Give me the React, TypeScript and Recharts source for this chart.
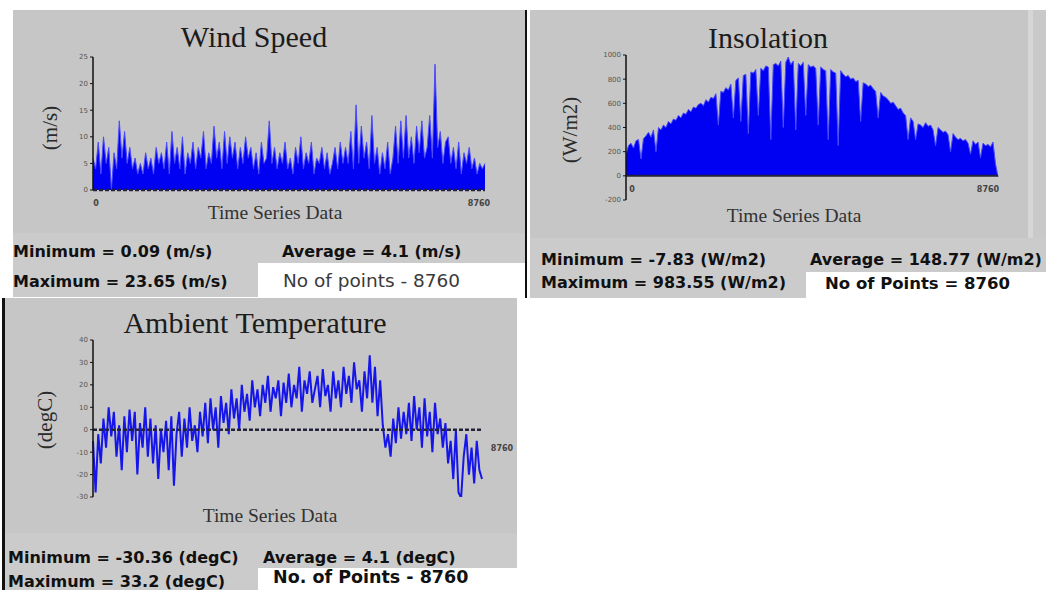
import { AreaChart, Area, LineChart, Line, XAxis, YAxis, ReferenceLine, ReferenceDot } from 'recharts';

const HOURS = 8760;

// hourly series, sampled by eye from the three plots (start of year -> end of year)
const WIND_SPEED = [
  6, 4, 9, 3, 10, 5, 8, 0.09, 7, 4, 13, 6, 11, 5, 8,
  4, 6, 3, 5, 3, 7, 4, 6, 3, 8, 5, 7, 4, 9, 3,
  11, 5, 8, 4, 10, 3, 7, 5, 9, 4, 8, 6, 11, 4, 7,
  5, 12, 6, 9, 4, 11, 5, 10, 6, 9, 4, 8, 5, 10, 6,
  8, 4, 7, 3, 9, 5, 6, 13, 5, 8, 4, 7, 5, 9, 4,
  6, 3, 8, 5, 10, 4, 7, 5, 9, 3, 6, 5, 8, 4, 7,
  3, 5, 8, 4, 9, 5, 8, 5, 11, 4, 16, 5, 12, 6, 9,
  4, 14, 5, 8, 3, 7, 4, 9, 3, 6, 12, 5, 13, 6, 14,
  6, 10, 5, 12, 7, 13, 6, 8, 14, 6, 23.65, 8, 11, 5, 9,
  10, 5, 8, 4, 9, 3, 7, 5, 8, 4, 6, 3, 5, 4, 5,
];
const WIND_TICKS = [0, 5, 10, 15, 20, 25];

const INSOLATION = [
  180, 250, 270, 230, 290, 300, 140, 310, 330, 360, 320, 380, 200, 400, 380,
  420, 400, 450, 430, 470, 460, 500, 480, 520, 510, 550, 530, 570, 560, 590,
  600, 580, 630, 610, 650, 640, 680, 420, 700, 690, 730, 710, 760, 480, 790,
  810, 450, 830, 840, 350, 860, 850, 880, 500, 890, 870, 910, 900, 300, 920,
  930, 910, 950, 400, 940, 983.55, 920, 950, 380, 930, 910, 940, 500, 920, 900,
  910, 890, 420, 900, 880, 870, 300, 880, 860, 850, 250, 870, 840, 820, 830,
  800, 810, 780, 790, 450, 770, 760, 740, 750, 720, 700, 480, 690, 660, 650,
  630, 600, 610, 580, 550, 560, 520, 500, 300, 480, 450, 300, 430, 420, 400,
  440, 410, 420, 380, 250, 400, 380, 360, 370, 340, 200, 350, 320, 300, 310,
  290, 300, 270, 180, 290, 260, 280, 150, 270, 250, 260, 240, 280, 100, -7.83,
];
const INSOLATION_TICKS = [-200, 0, 200, 400, 600, 800, 1000];

const AMBIENT_TEMP = [
  -5, -28, -2, -15, 5, -8, 10, -3, 8, -12, 2, -18, 6, -10, 9,
  -5, 8, -20, 3, -8, 10, -12, 5, -15, 2, -22, 0, -10, 4, -18,
  6, -25, -2, 8, -12, 5, -8, 10, -5, 2, -10, 8, -3, 12, -6,
  14, 0, 10, -8, 15, 3, 12, -2, 18, 5, 14, 0, 20, 8, 16,
  4, 22, 10, 18, 6, 20, 12, 24, 8, 19, 14, 22, 6, 21, 12,
  25, 10, 20, 14, 28, 8, 22, 16, 26, 12, 18, 24, 10, 27, 15,
  20, 8, 26, 14, 22, 10, 28, 16, 24, 12, 30, 18, 22, 8, 26,
  14, 33.2, 12, 28, 6, 22, 2, -8, -2, -12, 5, -6, 10, -4, 8,
  -2, 12, -5, 15, 0, 10, -8, 14, -3, 8, -10, 12, -2, 5, -8,
  3, -15, -5, -22, 0, -28, -30.36, -12, -2, -20, -8, -24, -5, -18, -22,
];
const TEMP_TICKS = [-30, -20, -10, 0, 10, 20, 30, 40];

const toRows = (values: number[]) =>
  values.map((v, i) => ({ hour: Math.round((i * HOURS) / (values.length - 1)), v }));

type Box = { x: number; y: number; w: number; h: number };
type XLabel = { hour: number; text: string; dx: number; dy: number };

const M = { top: 6, right: 40, bottom: 24, left: 6 };
const AXIS_W = 30;

function Plot({ box, values, ticks, kind, zeroDash, xLabels }: {
  box: Box; values: number[]; ticks: number[]; kind: 'area' | 'line'; zeroDash: boolean; xLabels: XLabel[];
}) {
  const data = toRows(values);
  const Chart: any = kind === 'area' ? AreaChart : LineChart;
  return (
    <div style={{ position: 'absolute', left: box.x - M.left - AXIS_W, top: box.y - M.top }}>
      <Chart width={box.w + M.left + AXIS_W + M.right} height={box.h + M.top + M.bottom} data={data} margin={M}>
        <XAxis dataKey="hour" type="number" domain={[0, HOURS]} hide />
        <YAxis
          type="number"
          domain={[ticks[0], ticks[ticks.length - 1]]}
          ticks={ticks}
          interval={0}
          width={AXIS_W}
          allowDataOverflow
          axisLine={{ stroke: '#111', strokeWidth: 1.5 }}
          tickLine={{ stroke: '#111' }}
          tickSize={3}
          tick={{ fontSize: 7, fill: '#555', fontFamily: 'DejaVu Sans' }}
        />
        {kind === 'area' ? (
          <Area type="linear" dataKey="v" baseValue={0} stroke="#4a4aff" strokeWidth={1} fill="#0000f2" fillOpacity={1} dot={false} activeDot={false} isAnimationActive={false} />
        ) : (
          <Line type="linear" dataKey="v" stroke="#1616ea" strokeWidth={2} dot={false} activeDot={false} isAnimationActive={false} />
        )}
        <ReferenceLine
          y={0}
          stroke="#22223a"
          strokeWidth={zeroDash ? 2.5 : 2}
          strokeDasharray={zeroDash ? '4 2' : undefined}
        />
        {xLabels.map((l) => (
          <ReferenceDot
            key={l.text}
            x={l.hour}
            y={0}
            r={1}
            shape={(p: any) => (
              <text x={p.cx + l.dx} y={p.cy + l.dy} textAnchor="middle" fontSize={8} fontWeight="bold" fill="#444" fontFamily="DejaVu Sans">
                {l.text}
              </text>
            )}
          />
        ))}
      </Chart>
    </div>
  );
}

function T({ x, y, size, children, bold, serif, center, color }: {
  x: number; y: number; size: number; children: any; bold?: boolean; serif?: boolean; center?: boolean; color?: string;
}) {
  return (
    <div
      style={{
        position: 'absolute',
        left: x,
        top: y - size * 0.6,
        fontSize: size,
        lineHeight: `${size * 1.2}px`,
        fontWeight: bold ? 'bold' : 'normal',
        fontFamily: serif ? '"Liberation Serif", serif' : '"DejaVu Sans", sans-serif',
        color: color || '#111',
        whiteSpace: 'nowrap',
        transform: center ? 'translateX(-50%)' : undefined,
      }}
    >
      {children}
    </div>
  );
}

function VLabel({ x, y, text }: { x: number; y: number; text: string }) {
  return (
    <div
      style={{
        position: 'absolute',
        left: x,
        top: y,
        fontSize: 21,
        lineHeight: '21px',
        fontFamily: '"Liberation Serif", serif',
        color: '#2a2a2a',
        whiteSpace: 'nowrap',
        transform: 'translate(-50%, -50%) rotate(-90deg)',
      }}
    >
      {text}
    </div>
  );
}

const rect = (left: number, top: number, width: number, height: number, background: string) => (
  <div style={{ position: 'absolute', left, top, width, height, background }} />
);

export default function App() {
  return (
    <div style={{ position: 'absolute', left: 0, top: 0, width: 1046, height: 590, background: '#fff', overflow: 'hidden' }}>
      {/* wind speed panel */}
      {rect(13, 10, 513, 287, '#c6c6c6')}
      {rect(13, 233, 513, 64, '#cbcbcb')}
      {rect(258, 263, 268, 34, '#fff')}
      {rect(525, 10, 2, 288, '#111')}
      <T x={254} y={37} size={30} serif center color="#1c1c1c">Wind Speed</T>
      <VLabel x={50} y={128} text="(m/s)" />
      <Plot
        box={{ x: 93, y: 57, w: 392, h: 133 }}
        values={WIND_SPEED}
        ticks={WIND_TICKS}
        kind="area"
        zeroDash
        xLabels={[{ hour: 0, text: '0', dx: 3, dy: 16 }, { hour: HOURS, text: '8760', dx: -6, dy: 16 }]}
      />
      <T x={275} y={213} size={19.5} serif center color="#333">Time Series Data</T>
      <T x={13} y={252} size={16} bold>Minimum = 0.09 (m/s)</T>
      <T x={13} y={282} size={16} bold>Maximum = 23.65 (m/s)</T>
      <T x={282} y={252} size={16} bold>Average = 4.1 (m/s)</T>
      <T x={283} y={281} size={18.5} color="#3a3a3a">No of points - 8760</T>

      {/* insolation panel */}
      {rect(530, 10, 498, 288, '#c6c6c6')}
      {rect(1028, 10, 5, 288, '#d6d6d6')}
      {rect(1033, 10, 13, 288, '#c9c9c9')}
      {rect(530, 238, 516, 60, '#cbcbcb')}
      {rect(806, 272, 240, 26, '#fff')}
      <T x={768} y={38} size={30} serif center color="#1c1c1c">Insolation</T>
      <VLabel x={570} y={130} text="(W/m2)" />
      <Plot
        box={{ x: 626, y: 55, w: 372, h: 145 }}
        values={INSOLATION}
        ticks={INSOLATION_TICKS}
        kind="area"
        zeroDash={false}
        xLabels={[{ hour: 0, text: '0', dx: 6, dy: 16 }, { hour: HOURS, text: '8760', dx: -10, dy: 16 }]}
      />
      <T x={794} y={216} size={19.5} serif center color="#333">Time Series Data</T>
      <T x={541} y={260} size={16} bold>Minimum = -7.83 (W/m2)</T>
      <T x={541} y={283} size={16} bold>Maximum = 983.55 (W/m2)</T>
      <T x={810} y={260} size={16} bold>Average = 148.77 (W/m2)</T>
      <T x={825} y={284} size={16.5} bold>No of Points = 8760</T>

      {/* ambient temperature panel */}
      {rect(2, 298, 3, 292, '#111')}
      {rect(5, 298, 512, 292, '#c6c6c6')}
      {rect(5, 533, 512, 57, '#cbcbcb')}
      {rect(258, 568, 259, 22, '#fff')}
      <T x={255} y={323} size={30} serif center color="#1c1c1c">Ambient Temperature</T>
      <VLabel x={45} y={420} text="(degC)" />
      <Plot
        box={{ x: 93, y: 340, w: 389, h: 157 }}
        values={AMBIENT_TEMP}
        ticks={TEMP_TICKS}
        kind="line"
        zeroDash
        xLabels={[{ hour: HOURS, text: '8760', dx: 20, dy: 21 }]}
      />
      <T x={270} y={516} size={19.5} serif center color="#333">Time Series Data</T>
      <T x={8} y={558} size={16} bold>Minimum = -30.36 (degC)</T>
      <T x={8} y={582} size={16} bold>Maximum = 33.2 (degC)</T>
      <T x={263} y={558} size={16} bold>Average = 4.1 (degC)</T>
      <T x={273} y={577} size={17.5} bold>No. of Points - 8760</T>
    </div>
  );
}
